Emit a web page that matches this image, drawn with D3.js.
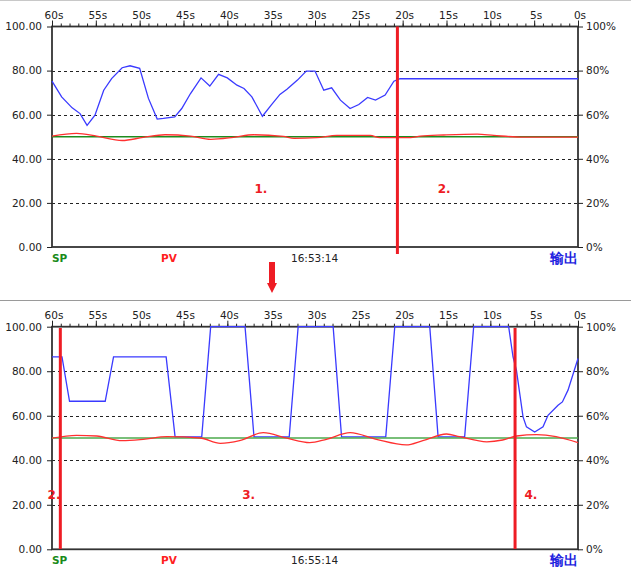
<!DOCTYPE html>
<html>
<head>
<meta charset="utf-8">
<script src="https://cdn.jsdelivr.net/npm/d3@7"></script>
<style>
  html, body { margin: 0; padding: 0; background: #fff; }
  svg { display: block; }
  text { font-family: "DejaVu Sans", Verdana, sans-serif; }
</style>
</head>
<body>
<svg id="chart" width="631" height="575"></svg>
<script>
// ---------- data ----------
const timeTicks = [60, 55, 50, 45, 40, 35, 30, 25, 20, 15, 10, 5, 0];
const minorTicks = d3.range(60, -1, -1);
const valueTicks = [0, 20, 40, 60, 80, 100];
const gridValues = [20, 40, 60, 80];
const spValue = 50;

// chart 1 (16:53:14)
const out1Time = [60, 58.9, 57.7, 56.8, 56.0, 55.1, 54.1, 53.2, 52.0, 51.1, 50.0, 49.0, 48.0, 47.3, 46.0, 45.2, 44.2, 43.0, 42.0, 41.0, 40.0, 38.9, 38.1, 37.2, 36.0, 35.0, 34.0, 33.2, 32.0, 31.0, 30.0, 29.0, 28.1, 27.1, 26.0, 25.0, 24.0, 23.1, 22.0, 21.0, 20.3, 0];
const out1Value = [75.2, 68.1, 63.1, 60.5, 55.2, 59.8, 71.1, 76.4, 81.3, 82.2, 81.0, 67.4, 58.0, 58.3, 59.0, 62.8, 69.6, 76.7, 73.0, 78.3, 76.7, 73.4, 71.9, 68.1, 59.3, 64.3, 69.2, 71.5, 75.7, 79.8, 79.8, 71.1, 72.2, 66.6, 62.8, 64.6, 67.8, 66.6, 68.9, 75.2, 76.3, 76.3];
const pv1Time = [60, 57.2, 54.9, 52.0, 49.6, 47.1, 44.2, 41.9, 39.3, 37.0, 33.6, 32.4, 29.8, 27.5, 23.7, 22.6, 19.1, 18.0, 15.3, 11.5, 9.6, 6.2, 3.2, 0];
const pv1Value = [50.3, 51.5, 50.3, 48.3, 49.7, 50.9, 50.3, 48.8, 49.7, 50.9, 50.2, 49.3, 49.6, 50.6, 50.6, 49.6, 49.6, 50.3, 50.8, 51.2, 50.6, 49.8, 49.8, 49.8];
const markers1 = [20.6];
const notes1 = [{t: "1.", time: 36.9, value: 26.3}, {t: "2.", time: 16.0, value: 26.3}];

// chart 2 (16:55:14)
const out2Time = [60, 58.86, 58.0, 53.93, 52.98, 46.98, 45.96, 42.92, 41.9, 37.98, 36.96, 32.94, 31.92, 27.93, 26.97, 21.93, 20.9, 16.91, 15.96, 12.93, 11.9, 7.91, 7.41, 7.02, 6.27, 5.88, 4.94, 3.99, 3.42, 2.28, 1.78, 1.14, 0];
const out2Value = [86.4, 86.4, 66.5, 66.5, 86.4, 86.4, 50.5, 50.5, 100, 100, 50.5, 50.5, 100, 100, 50.5, 50.5, 100, 100, 50.5, 50.5, 100, 100, 86.4, 80.4, 59.5, 55.0, 52.7, 55.0, 60.2, 64.7, 66.2, 71.5, 85.7];
const pv2Time = [60, 57.2, 54.9, 52.0, 49.6, 46.9, 43.1, 40.8, 38.6, 35.9, 33.2, 30.6, 28.7, 26.0, 23.0, 19.6, 17.7, 15.0, 13.5, 10.4, 8.6, 7.0, 4.7, 2.5, 0];
const pv2Value = [49.9, 51.2, 50.9, 48.8, 49.4, 50.6, 50.0, 47.6, 48.8, 52.4, 49.9, 47.9, 49.4, 52.4, 49.4, 46.9, 48.8, 51.8, 50.6, 48.3, 49.1, 50.9, 51.5, 50.6, 47.9];
const markers2 = [59.05, 7.18];
const notes2 = [{t: "2.", time: 60.5, value: 24.4}, {t: "3.", time: 38.3, value: 24.4}, {t: "4.", time: 6.1, value: 24.4}];

const footer = {sp: "SP", pv: "PV", out: "输出"};
const times = ["16:53:14", "16:55:14"];

// ---------- drawing ----------
const svg = d3.select("#chart");
const left = 52, right = 578;

// top border & separator
svg.append("line").attr("x1", 0).attr("x2", 631).attr("y1", 0.5).attr("y2", 0.5).attr("stroke", "#c8c8c8");
svg.append("line").attr("x1", 0).attr("x2", 631).attr("y1", 300.5).attr("y2", 300.5).attr("stroke", "#9a9a9a");

// arrow
svg.append("path")
  .attr("d", "M269,262 L275,262 L275,283 L277,283 L272,293 L267,283 L269,283 Z")
  .attr("fill", "#ee1c24");

function drawChart(g, top, bottom, cfg) {
  const x = d3.scaleLinear().domain([60, 0]).range([left, right]);
  const y = d3.scaleLinear().domain([0, 100]).range([bottom, top]);

  // grid
  g.selectAll(".grid").data(gridValues).join("line")
    .attr("x1", left).attr("x2", right)
    .attr("y1", d => Math.round(y(d)) + 0.5).attr("y2", d => Math.round(y(d)) + 0.5)
    .attr("stroke", "#222").attr("stroke-dasharray", "3,3");

  // frame
  g.append("rect").attr("x", left).attr("y", top).attr("width", right - left).attr("height", bottom - top)
    .attr("fill", "none").attr("stroke", "#333").attr("stroke-width", 1.8);

  // top axis minor
  const minor = g.append("g").attr("transform", `translate(0,${top})`)
    .call(d3.axisTop(x).tickValues(minorTicks).tickSize(3).tickFormat(""));
  minor.select(".domain").remove();
  minor.selectAll("line").attr("stroke", "#222");
  // top axis major
  const major = g.append("g").attr("transform", `translate(0,${top})`)
    .call(d3.axisTop(x).tickValues(timeTicks).tickSize(6).tickPadding(2).tickFormat(d => d + "s"));
  major.select(".domain").remove();
  major.selectAll("line").attr("stroke", "#222");
  major.selectAll("text").attr("font-size", "10.5px").attr("fill", "#222")
    .attr("font-family", "DejaVu Sans, sans-serif").attr("dx", 1.5);

  // left axis
  const la = g.append("g").attr("transform", `translate(${left},0)`)
    .call(d3.axisLeft(y).tickValues(valueTicks).tickSize(5).tickPadding(5).tickFormat(d => d.toFixed(2)));
  la.select(".domain").remove();
  la.selectAll("line").attr("stroke", "#222");
  la.selectAll("text").attr("font-size", "10.5px").attr("fill", "#222").attr("font-family", "DejaVu Sans, sans-serif");

  // right axis
  const ra = g.append("g").attr("transform", `translate(${right},0)`)
    .call(d3.axisRight(y).tickValues(valueTicks).tickSize(5).tickPadding(3).tickFormat(d => d + "%"));
  ra.select(".domain").remove();
  ra.selectAll("line").attr("stroke", "#222");
  ra.selectAll("text").attr("font-size", "10.5px").attr("fill", "#222").attr("font-family", "DejaVu Sans, sans-serif");

  const lineLinear = d3.line().x(d => x(d[0])).y(d => y(d[1]));
  const lineSmooth = d3.line().x(d => x(d[0])).y(d => y(d[1])).curve(d3.curveMonotoneX);

  // output (blue)
  g.append("path").datum(d3.zip(cfg.outTime, cfg.outValue))
    .attr("d", lineLinear).attr("fill", "none").attr("stroke", "#3a3aff").attr("stroke-width", 1.3);
  // SP (green)
  g.append("path").datum([[60, spValue], [0, spValue]])
    .attr("d", lineLinear).attr("fill", "none").attr("stroke", cfg.spColor).attr("stroke-width", 1.5);
  // PV (red)
  g.append("path").datum(d3.zip(cfg.pvTime, cfg.pvValue))
    .attr("d", lineSmooth).attr("fill", "none").attr("stroke", "#ff3030").attr("stroke-width", 1.3);

  // markers
  g.selectAll(".marker").data(cfg.markers).join("line")
    .attr("x1", d => x(d)).attr("x2", d => x(d))
    .attr("y1", cfg.markerTop).attr("y2", cfg.markerBottom)
    .attr("stroke", "#ee1c24").attr("stroke-width", 3);

  // notes
  g.selectAll(".note").data(cfg.notes).join("text")
    .attr("x", d => x(d.time)).attr("y", d => y(d.value)).attr("dy", "0.35em")
    .attr("fill", "#ee1c24").attr("font-size", "12px").attr("font-weight", "bold")
    .attr("font-family", "DejaVu Sans, sans-serif")
    .text(d => d.t);

  // footer
  const fy = bottom + 15;
  g.append("text").attr("x", left).attr("y", fy).attr("fill", "#1a8a1a").attr("font-weight", "bold")
    .attr("font-size", "10.5px").text(footer.sp);
  g.append("text").attr("x", 161).attr("y", fy).attr("fill", "#ff2020").attr("font-weight", "bold")
    .attr("font-size", "10.5px").text(footer.pv);
  g.append("text").attr("x", 291).attr("y", fy).attr("fill", "#222")
    .attr("font-size", "10.5px").text(cfg.time);
  g.append("text").attr("x", right).attr("y", fy + 1).attr("text-anchor", "end").attr("fill", "#1f1fe0")
    .attr("font-weight", "bold").attr("font-size", "14px")
    .attr("font-family", "Noto Sans CJK SC, sans-serif").text(footer.out);
}

drawChart(svg.append("g"), 26.5, 247, {
  outTime: out1Time, outValue: out1Value, pvTime: pv1Time, pvValue: pv1Value,
  spColor: "#1e8c1e", markers: markers1, markerTop: 26.5, markerBottom: 254,
  notes: notes1, time: times[0]
});
drawChart(svg.append("g"), 326.7, 549.3, {
  outTime: out2Time, outValue: out2Value, pvTime: pv2Time, pvValue: pv2Value,
  spColor: "#4caa4c", markers: markers2, markerTop: 328, markerBottom: 549,
  notes: notes2, time: times[1]
});
</script>
</body>
</html>
